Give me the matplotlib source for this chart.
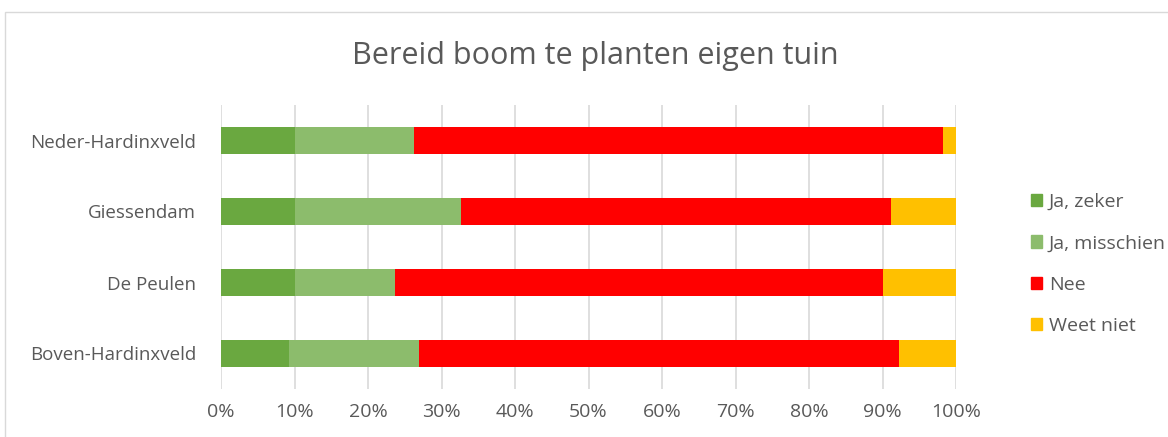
import matplotlib.pyplot as plt
from matplotlib.patches import Rectangle, Patch

# DATA (percentages)
places = ['Boven-Hardinxveld', 'De Peulen', 'Giessendam', 'Neder-Hardinxveld']
ja_zeker = [9.3, 10.0, 10.0, 10.0]
ja_misschien = [17.7, 13.7, 22.6, 16.2]
nee = [65.3, 66.3, 58.6, 72.0]
weet_niet = [7.7, 10.0, 8.8, 1.8]

series = [('Ja, zeker', ja_zeker, '#6aa840'),
          ('Ja, misschien', ja_misschien, '#8cbc6c'),
          ('Nee', nee, '#ff0000'),
          ('Weet niet', weet_niet, '#ffc000')]

TEXT = '#595959'
plt.rcParams['font.family'] = ['Open Sans', 'DejaVu Sans']

fig = plt.figure(figsize=(11.68, 4.37), dpi=100)
ax = fig.add_axes([221 / 1168, 1 - 389 / 437, 735 / 1168, 284 / 437])

# chart border
fig.patches.append(Rectangle((5 / 1168, -0.1), 1.2, 1 - 12 / 437 + 0.1, transform=fig.transFigure,
                             fill=False, edgecolor='#d9d9d9', linewidth=1))

y = list(range(len(places)))
left = [0.0] * len(places)
for name, vals, col in series:
    ax.barh(y, vals, left=left, height=0.38, color=col, label=name, zorder=3)
    left = [l + v for l, v in zip(left, vals)]

ax.set_xlim(0, 100)
ax.set_ylim(-0.5, 3.5)
ax.set_xticks(range(0, 101, 10))
ax.set_xticklabels([str(t) + '%' for t in range(0, 101, 10)])
ax.set_yticks(y)
ax.set_yticklabels(places)
ax.xaxis.grid(True, color='#d9d9d9', linewidth=1.2, zorder=0)
for s in ax.spines.values():
    s.set_visible(False)
ax.tick_params(axis='both', length=0, colors=TEXT)
ax.tick_params(axis='x', pad=10, labelsize=14)
ax.tick_params(axis='y', pad=18, labelsize=13.5)

fig.text(595 / 1168, 1 - 56 / 437, 'Bereid boom te planten eigen tuin', ha='center', va='center',
         fontsize=22, color=TEXT)

handles = [Patch(color=c) for _, _, c in series]
fig.legend(handles, [n for n, _, _ in series], loc='center left', bbox_to_anchor=(1013 / 1168, 1 - 264 / 437),
           frameon=False, fontsize=14, labelcolor=TEXT, handlelength=0.6, handleheight=0.6,
           handletextpad=0.35, labelspacing=1.2)

plt.savefig('out.png', dpi=100)
